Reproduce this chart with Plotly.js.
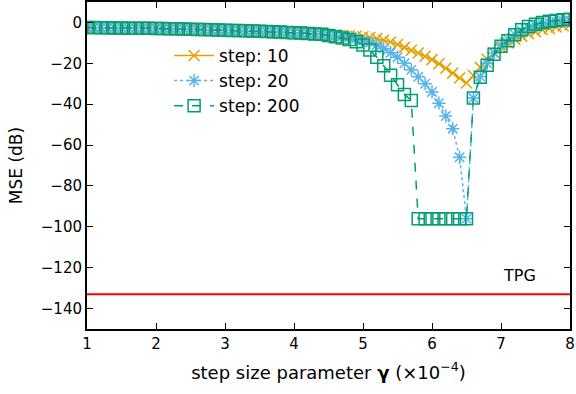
<!DOCTYPE html>
<html>
<head>
<meta charset="utf-8">
<script src="https://cdn.plot.ly/plotly-3.0.1.min.js"></script>
<style>
  html, body { margin: 0; padding: 0; background: #fff; }
  #chart { width: 576px; height: 394px; }
</style>
</head>
<body>
<div id="chart"></div>
<script>
// step size parameter gamma (x1e-4), 1.0 .. 8.0 by 0.1
const gamma = [
    1.0, 1.1, 1.2, 1.3, 1.4, 1.5, 1.6, 1.7, 1.8, 1.9,
    2.0, 2.1, 2.2, 2.3, 2.4, 2.5, 2.6, 2.7, 2.8, 2.9,
    3.0, 3.1, 3.2, 3.3, 3.4, 3.5, 3.6, 3.7, 3.8, 3.9,
    4.0, 4.1, 4.2, 4.3, 4.4, 4.5, 4.6, 4.7, 4.8, 4.9,
    5.0, 5.1, 5.2, 5.3, 5.4, 5.5, 5.6, 5.7, 5.8, 5.9,
    6.0, 6.1, 6.2, 6.3, 6.4, 6.5, 6.6, 6.7, 6.8, 6.9,
    7.0, 7.1, 7.2, 7.3, 7.4, 7.5, 7.6, 7.7, 7.8, 7.9, 8.0
];

// MSE (dB)
const mseStep10 = [
    -2.5, -2.5, -2.6, -2.6, -2.7, -2.7, -2.8, -2.8, -2.9, -2.9,
    -3.0, -3.0, -3.1, -3.1, -3.2, -3.3, -3.4, -3.5, -3.6, -3.7,
    -3.8, -3.9, -4.0, -4.1, -4.2, -4.3, -4.4, -4.6, -4.7, -4.9,
    -5.0, -5.2, -5.4, -5.6, -5.8, -6.0, -6.1, -6.3, -6.5, -6.8,
    -7.0, -7.4, -7.9, -8.6, -9.6, -10.8, -12.2, -13.6, -15.0, -16.5,
    -18.2, -20.2, -22.4, -24.8, -27.2, -29.6, -26.0, -22.0, -18.0, -14.8,
    -12.2, -10.0, -8.2, -6.7, -5.5, -4.5, -3.6, -2.9, -2.2, -1.6, -1.1
];
const mseStep20 = [
    -2.5, -2.5, -2.6, -2.6, -2.7, -2.7, -2.8, -2.8, -2.9, -2.9,
    -3.0, -3.0, -3.1, -3.1, -3.2, -3.3, -3.4, -3.5, -3.6, -3.7,
    -3.8, -3.9, -4.0, -4.1, -4.2, -4.3, -4.4, -4.6, -4.7, -4.9,
    -5.0, -5.2, -5.4, -5.6, -5.8, -6.1, -6.4, -6.8, -7.3, -8.0,
    -8.8, -9.8, -11.0, -12.8, -14.8, -17.0, -20.0, -23.2, -26.6, -30.0,
    -34.0, -39.5, -45.8, -52.0, -66.0, -96.0, -37.0, -26.5, -20.0, -15.0,
    -11.0, -8.3, -5.9, -4.0, -2.6, -1.5, -0.7, -0.1, 0.4, 0.7, 0.9
];
const mseStep200 = [
    -2.5, -2.5, -2.6, -2.6, -2.7, -2.7, -2.8, -2.8, -2.9, -2.9,
    -3.0, -3.0, -3.1, -3.1, -3.2, -3.3, -3.4, -3.5, -3.6, -3.7,
    -3.8, -3.9, -4.0, -4.1, -4.2, -4.3, -4.4, -4.6, -4.7, -4.9,
    -5.0, -5.2, -5.4, -5.6, -5.8, -6.4, -7.0, -7.6, -8.4, -9.5,
    -11.0, -13.5, -17.0, -21.2, -25.8, -30.5, -35.2, -38.2, -96.0, -96.0,
    -96.0, -96.0, -96.0, -96.0, -96.0, -96.0, -37.0, -26.8, -21.0, -15.6,
    -11.6, -9.0, -6.0, -3.6, -2.0, -0.9, 0.0, 0.6, 1.0, 1.3, 1.5
];

// TPG reference level
const tpgX = [1, 8];
const tpgY = [-133, -133];

const font = "DejaVu Sans, Liberation Sans, sans-serif";

const plotData = [
    {
        x: gamma, y: mseStep10, name: "step: 10", mode: "lines+markers",
        line: {color: "#E69F00", width: 1.5},
        marker: {symbol: "x-thin-open", size: 11, color: "#E69F00", line: {color: "#E69F00", width: 1.5}}
    },
    {
        x: gamma, y: mseStep20, name: "step: 20", mode: "lines+markers",
        line: {color: "#56B4E9", width: 1.5, dash: "dot"},
        marker: {symbol: "asterisk-open", size: 11, color: "#56B4E9", line: {color: "#56B4E9", width: 1.5}}
    },
    {
        x: gamma, y: mseStep200, name: "step: 200", mode: "lines+markers",
        line: {color: "#009E73", width: 1.5, dash: "dash"},
        marker: {symbol: "square-open", size: 12, color: "#009E73", line: {color: "#009E73", width: 1.5}}
    },
    {
        x: tpgX, y: tpgY, name: "TPG", mode: "lines", showlegend: false,
        line: {color: "#FF0000", width: 2}
    }
];

const layout = {
    width: 576,
    height: 394,
    margin: {t: 2, r: 6, b: 65, l: 87},
    paper_bgcolor: "#fff",
    plot_bgcolor: "#fff",
    font: {family: font, size: 15, color: "#000"},
    showlegend: true,
    legend: {
        x: 0.17, y: 0.89, xanchor: "left", yanchor: "top",
        bgcolor: "rgba(0,0,0,0)",
        font: {family: font, size: 17, color: "#000"},
        tracegroupgap: 0,
        itemwidth: 40
    },
    xaxis: {
        range: [1, 8],
        dtick: 1,
        ticks: "inside", ticklen: 6, tickwidth: 1, tickcolor: "#000",
        showline: true, linecolor: "#000", linewidth: 2, mirror: "ticks",
        showgrid: false, zeroline: false,
        tickfont: {family: font, size: 15},
        title: {text: "step size parameter <b>γ</b> (×10<sup>−4</sup>)", font: {family: font, size: 18}, standoff: 14}
    },
    yaxis: {
        range: [-150, 10],
        dtick: 20,
        ticks: "inside", ticklen: 6, tickwidth: 1, tickcolor: "#000",
        showline: true, linecolor: "#000", linewidth: 2, mirror: "ticks",
        showgrid: false, zeroline: false,
        tickfont: {family: font, size: 15},
        title: {text: "MSE (dB)", font: {family: font, size: 17}, standoff: 14}
    },
    annotations: [
        {x: 7.27, y: -124, xref: "x", yref: "y", text: "TPG", showarrow: false,
         font: {family: font, size: 16, color: "#000"}}
    ]
};

Plotly.newPlot("chart", plotData, layout, {displayModeBar: false, staticPlot: true});
</script>
</body>
</html>
